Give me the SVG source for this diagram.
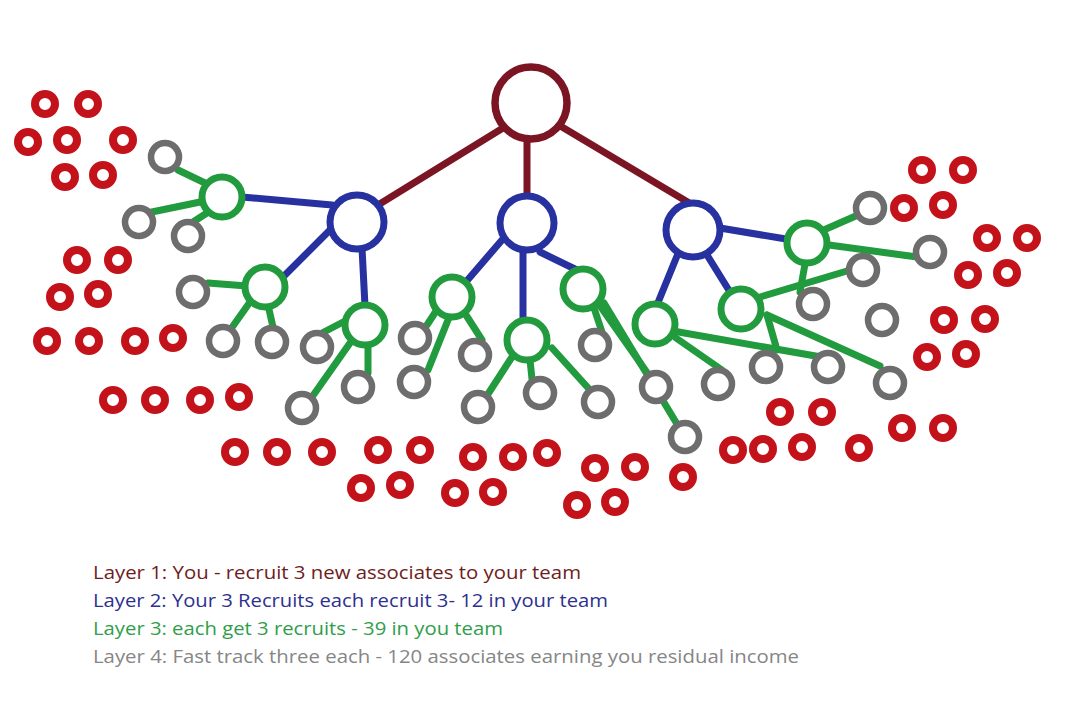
<svg xmlns="http://www.w3.org/2000/svg" width="1080" height="715" viewBox="0 0 1080 715">
<style>
circle{fill:#fff}
.root{stroke:#7b1524;stroke-width:7.5}
.blue{stroke:#27319f;stroke-width:7}
.green{stroke:#229a3e;stroke-width:7}
.gray{stroke:#6d6d6d;stroke-width:6.5}
.red{stroke:#c4121b;stroke-width:8}
.lm{stroke:#7b1524;stroke-width:7;stroke-linecap:round}
.lb{stroke:#27319f;stroke-width:7;stroke-linecap:round}
.lg{stroke:#229a3e;stroke-width:7;stroke-linecap:round}
text{font-family:"Open Sans","Liberation Sans",sans-serif;font-size:19px}
</style>
<rect width="1080" height="715" fill="#fff"/>
<g id="connectors">
<line class="lm" x1="503" y1="128" x2="378" y2="205"/>
<line class="lm" x1="527" y1="138" x2="527" y2="196"/>
<line class="lm" x1="562" y1="127" x2="691" y2="204"/>
<line class="lb" x1="242" y1="197" x2="332" y2="205"/>
<line class="lb" x1="330" y1="230" x2="282" y2="278"/>
<line class="lb" x1="362" y1="248" x2="365" y2="306"/>
<line class="lb" x1="502" y1="240" x2="465" y2="283"/>
<line class="lb" x1="523" y1="250" x2="523" y2="322"/>
<line class="lb" x1="540" y1="252" x2="577" y2="270"/>
<line class="lb" x1="677" y1="256" x2="657" y2="305"/>
<line class="lb" x1="720" y1="228" x2="786" y2="239"/>
<line class="lb" x1="707" y1="255" x2="730" y2="292"/>
<line class="lg" x1="178" y1="170" x2="205" y2="183"/>
<line class="lg" x1="147" y1="213" x2="205" y2="201"/>
<line class="lg" x1="193" y1="222" x2="210" y2="211"/>
<line class="lg" x1="208" y1="283" x2="247" y2="286"/>
<line class="lg" x1="233" y1="326" x2="250" y2="302"/>
<line class="lg" x1="273" y1="327" x2="268" y2="305"/>
<line class="lg" x1="322" y1="333" x2="347" y2="320"/>
<line class="lg" x1="368" y1="347" x2="368" y2="373"/>
<line class="lg" x1="312" y1="397" x2="350" y2="343"/>
<line class="lg" x1="427" y1="325" x2="440" y2="305"/>
<line class="lg" x1="428" y1="370" x2="450" y2="315"/>
<line class="lg" x1="466" y1="315" x2="482" y2="340"/>
<line class="lg" x1="488" y1="394" x2="512" y2="357"/>
<line class="lg" x1="530" y1="360" x2="532" y2="379"/>
<line class="lg" x1="552" y1="348" x2="590" y2="390"/>
<line class="lg" x1="593" y1="305" x2="602" y2="332"/>
<line class="lg" x1="598" y1="303" x2="648" y2="374"/>
<line class="lg" x1="604" y1="303" x2="677" y2="424"/>
<line class="lg" x1="673" y1="331" x2="827" y2="358"/>
<line class="lg" x1="676" y1="338" x2="722" y2="370"/>
<line class="lg" x1="826" y1="229" x2="858" y2="215"/>
<line class="lg" x1="829" y1="245" x2="917" y2="257"/>
<line class="lg" x1="805" y1="264" x2="800" y2="292"/>
<line class="lg" x1="760" y1="297" x2="847" y2="271"/>
<line class="lg" x1="767" y1="315" x2="777" y2="350"/>
<line class="lg" x1="767" y1="315" x2="880" y2="366"/>
</g>
<g id="root"><circle class="root" cx="531" cy="103" r="36"/></g>
<g id="b1"><circle class="blue" cx="357" cy="222" r="27"/></g>
<g id="b2"><circle class="blue" cx="527" cy="223" r="27"/></g>
<g id="b3"><circle class="blue" cx="693" cy="230" r="27"/></g>
<g id="g1"><circle class="green" cx="222" cy="197" r="20"/></g>
<g id="g2"><circle class="green" cx="265" cy="287" r="20"/></g>
<g id="g3"><circle class="green" cx="365" cy="325" r="20"/></g>
<g id="g4"><circle class="green" cx="452" cy="297" r="20"/></g>
<g id="g5"><circle class="green" cx="527" cy="340" r="20"/></g>
<g id="g6"><circle class="green" cx="583" cy="289" r="20"/></g>
<g id="g7"><circle class="green" cx="655" cy="324" r="20"/></g>
<g id="g8"><circle class="green" cx="807" cy="243" r="20"/></g>
<g id="g9"><circle class="green" cx="741" cy="309" r="20"/></g>
<g id="gray1"><circle class="gray" cx="165" cy="157" r="14"/></g>
<g id="gray2"><circle class="gray" cx="139" cy="222" r="14"/></g>
<g id="gray3"><circle class="gray" cx="188" cy="236" r="14"/></g>
<g id="gray4"><circle class="gray" cx="193" cy="292" r="14"/></g>
<g id="gray5"><circle class="gray" cx="223" cy="341" r="14"/></g>
<g id="gray6"><circle class="gray" cx="272" cy="342" r="14"/></g>
<g id="gray7"><circle class="gray" cx="317" cy="347" r="14"/></g>
<g id="gray8"><circle class="gray" cx="358" cy="387" r="14"/></g>
<g id="gray9"><circle class="gray" cx="302" cy="408" r="14"/></g>
<g id="gray10"><circle class="gray" cx="415" cy="338" r="14"/></g>
<g id="gray11"><circle class="gray" cx="414" cy="382" r="14"/></g>
<g id="gray12"><circle class="gray" cx="475" cy="355" r="14"/></g>
<g id="gray13"><circle class="gray" cx="478" cy="407" r="14"/></g>
<g id="gray14"><circle class="gray" cx="540" cy="393" r="14"/></g>
<g id="gray15"><circle class="gray" cx="598" cy="402" r="14"/></g>
<g id="gray16"><circle class="gray" cx="595" cy="345" r="14"/></g>
<g id="gray17"><circle class="gray" cx="656" cy="387" r="14"/></g>
<g id="gray18"><circle class="gray" cx="685" cy="437" r="14"/></g>
<g id="gray19"><circle class="gray" cx="718" cy="384" r="14"/></g>
<g id="gray20"><circle class="gray" cx="828" cy="367" r="14"/></g>
<g id="gray21"><circle class="gray" cx="870" cy="208" r="14"/></g>
<g id="gray22"><circle class="gray" cx="930" cy="252" r="14"/></g>
<g id="gray23"><circle class="gray" cx="813" cy="304" r="14"/></g>
<g id="gray24"><circle class="gray" cx="863" cy="270" r="14"/></g>
<g id="gray25"><circle class="gray" cx="766" cy="367" r="14"/></g>
<g id="gray26"><circle class="gray" cx="890" cy="383" r="14"/></g>
<g id="gray27"><circle class="gray" cx="882" cy="320" r="14"/></g>
<g id="reds">
<g id="r1"><circle class="red" cx="45" cy="104" r="10"/></g>
<g id="r2"><circle class="red" cx="88" cy="104" r="10"/></g>
<g id="r3"><circle class="red" cx="28" cy="142" r="10"/></g>
<g id="r4"><circle class="red" cx="67" cy="140" r="10"/></g>
<g id="r5"><circle class="red" cx="123" cy="140" r="10"/></g>
<g id="r6"><circle class="red" cx="65" cy="177" r="10"/></g>
<g id="r7"><circle class="red" cx="103" cy="175" r="10"/></g>
<g id="r8"><circle class="red" cx="77" cy="260" r="10"/></g>
<g id="r9"><circle class="red" cx="118" cy="260" r="10"/></g>
<g id="r10"><circle class="red" cx="60" cy="297" r="10"/></g>
<g id="r11"><circle class="red" cx="98" cy="294" r="10"/></g>
<g id="r12"><circle class="red" cx="47" cy="341" r="10"/></g>
<g id="r13"><circle class="red" cx="89" cy="341" r="10"/></g>
<g id="r14"><circle class="red" cx="135" cy="341" r="10"/></g>
<g id="r15"><circle class="red" cx="173" cy="338" r="10"/></g>
<g id="r16"><circle class="red" cx="113" cy="400" r="10"/></g>
<g id="r17"><circle class="red" cx="155" cy="400" r="10"/></g>
<g id="r18"><circle class="red" cx="200" cy="400" r="10"/></g>
<g id="r19"><circle class="red" cx="239" cy="397" r="10"/></g>
<g id="r20"><circle class="red" cx="235" cy="452" r="10"/></g>
<g id="r21"><circle class="red" cx="277" cy="452" r="10"/></g>
<g id="r22"><circle class="red" cx="322" cy="452" r="10"/></g>
<g id="r23"><circle class="red" cx="378" cy="450" r="10"/></g>
<g id="r24"><circle class="red" cx="420" cy="450" r="10"/></g>
<g id="r25"><circle class="red" cx="473" cy="457" r="10"/></g>
<g id="r26"><circle class="red" cx="513" cy="457" r="10"/></g>
<g id="r27"><circle class="red" cx="547" cy="453" r="10"/></g>
<g id="r28"><circle class="red" cx="595" cy="468" r="10"/></g>
<g id="r29"><circle class="red" cx="635" cy="467" r="10"/></g>
<g id="r30"><circle class="red" cx="683" cy="477" r="10"/></g>
<g id="r31"><circle class="red" cx="361" cy="488" r="10"/></g>
<g id="r32"><circle class="red" cx="400" cy="485" r="10"/></g>
<g id="r33"><circle class="red" cx="455" cy="493" r="10"/></g>
<g id="r34"><circle class="red" cx="493" cy="492" r="10"/></g>
<g id="r35"><circle class="red" cx="577" cy="505" r="10"/></g>
<g id="r36"><circle class="red" cx="615" cy="502" r="10"/></g>
<g id="r37"><circle class="red" cx="733" cy="450" r="10"/></g>
<g id="r38"><circle class="red" cx="763" cy="449" r="10"/></g>
<g id="r39"><circle class="red" cx="802" cy="447" r="10"/></g>
<g id="r40"><circle class="red" cx="859" cy="448" r="10"/></g>
<g id="r41"><circle class="red" cx="780" cy="412" r="10"/></g>
<g id="r42"><circle class="red" cx="822" cy="412" r="10"/></g>
<g id="r43"><circle class="red" cx="902" cy="428" r="10"/></g>
<g id="r44"><circle class="red" cx="943" cy="428" r="10"/></g>
<g id="r45"><circle class="red" cx="944" cy="320" r="10"/></g>
<g id="r46"><circle class="red" cx="985" cy="319" r="10"/></g>
<g id="r47"><circle class="red" cx="927" cy="357" r="10"/></g>
<g id="r48"><circle class="red" cx="966" cy="354" r="10"/></g>
<g id="r49"><circle class="red" cx="922" cy="170" r="10"/></g>
<g id="r50"><circle class="red" cx="963" cy="170" r="10"/></g>
<g id="r51"><circle class="red" cx="904" cy="208" r="10"/></g>
<g id="r52"><circle class="red" cx="943" cy="205" r="10"/></g>
<g id="r53"><circle class="red" cx="987" cy="238" r="10"/></g>
<g id="r54"><circle class="red" cx="1027" cy="238" r="10"/></g>
<g id="r55"><circle class="red" cx="968" cy="275" r="10"/></g>
<g id="r56"><circle class="red" cx="1007" cy="273" r="10"/></g>
</g>
<g id="legend">
<text x="93" y="579" fill="#6e1d1d" textLength="488" lengthAdjust="spacingAndGlyphs">Layer 1: You - recruit 3 new associates to your team</text>
<text x="93" y="607" fill="#2e3090" textLength="515" lengthAdjust="spacingAndGlyphs">Layer 2: Your 3 Recruits each recruit 3- 12 in your team</text>
<text x="93" y="635" fill="#2f9e4a" textLength="410" lengthAdjust="spacingAndGlyphs">Layer 3: each get 3 recruits - 39 in you team</text>
<text x="93" y="663" fill="#868686" textLength="706" lengthAdjust="spacingAndGlyphs">Layer 4: Fast track three each - 120 associates earning you residual income</text>
</g>
</svg>
